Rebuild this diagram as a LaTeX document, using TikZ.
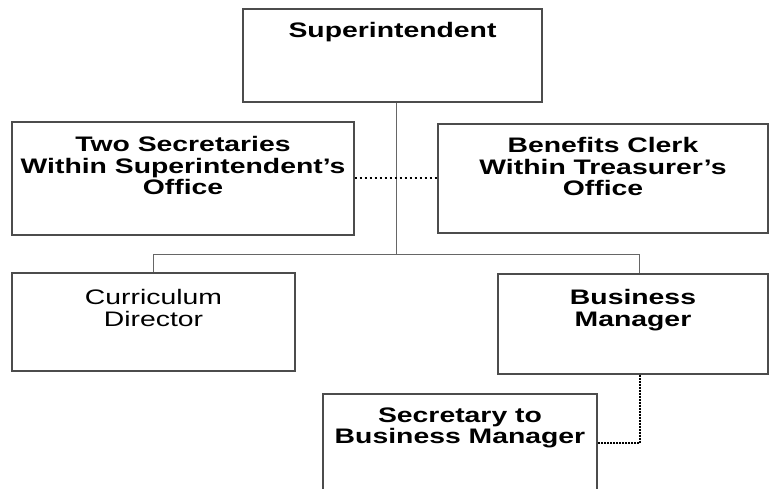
\documentclass[tikz,border=0pt]{standalone}
\usepackage{fontspec}
\setmainfont{Liberation Sans}[FakeStretch=1.35]
\begin{document}
\begin{tikzpicture}[x=1pt,y=-1pt,
  orgbox/.style={draw=black!70, line width=1.1pt, fill=white, inner sep=0pt},
  lbl/.style={anchor=north, align=center, inner sep=0pt,
    font=\fontsize{21}{21.5}\selectfont\bfseries},
  lblreg/.style={lbl, font=\fontsize{21}{21.5}\selectfont},
  solidlink/.style={draw=black!60, line width=1pt},
  dotlink/.style={draw=black, line width=1.5pt, dash pattern=on 2pt off 3pt},
  densedot/.style={draw=black, line width=1.5pt, dash pattern=on 2pt off 1pt}]
\useasboundingbox (0,0) rectangle (769,488);
\clip (0,0) rectangle (769,488);

% boxes (pixel-like coordinates, y grows downwards)
\node[orgbox, minimum width=299pt, minimum height=93pt]  (sup) at (392.5,55.5) {};
\node[orgbox, minimum width=342pt, minimum height=113pt] (two) at (183,178.5) {};
\node[orgbox, minimum width=330pt, minimum height=109pt] (ben) at (603,178.5) {};
\node[orgbox, minimum width=283pt, minimum height=98pt]  (cur) at (153.5,322) {};
\node[orgbox, minimum width=270pt, minimum height=100pt] (bus) at (633,324) {};
\node[orgbox, minimum width=274pt, minimum height=120pt] (sec) at (460,454) {};

% box titles, hung from the top edge of each box
\node[lbl] (tsup) at ([yshift=-14pt]sup.north) {Superintendent};
\node[lbl] (ttwo) at ([yshift=-15pt]two.north) {Two Secretaries\\Within Superintendent's\\Office};
\node[lbl] (tben) at ([yshift=-14pt]ben.north) {Benefits Clerk\\Within Treasurer's\\Office};
\node[lblreg] (tcur) at ([yshift=-17pt]cur.north) {Curriculum\\Director};
\node[lbl] (tbus) at ([yshift=-16pt]bus.north) {Business\\Manager};
\node[lbl] (tsec) at ([yshift=-14pt]sec.north) {Secretary to\\Business Manager};

% reporting lines
\coordinate (bus-l) at (153,254);
\coordinate (bus-r) at (639,254);
\coordinate (trunk) at (396,254);
\draw[solidlink] (sup.south -| trunk) -- (trunk);
\draw[solidlink] (cur.north -| bus-l) -- (bus-l) -- (bus-r) -- (bus.north -| bus-r);

% staff (dotted) lines
\draw[dotlink] (two.east |- 0,178) -- (ben.west |- 0,178);
\coordinate (bend) at (640,443);
\draw[densedot] (bus.south -| bend) -- (bend) -- (sec.east |- bend);
\end{tikzpicture}
\end{document}
